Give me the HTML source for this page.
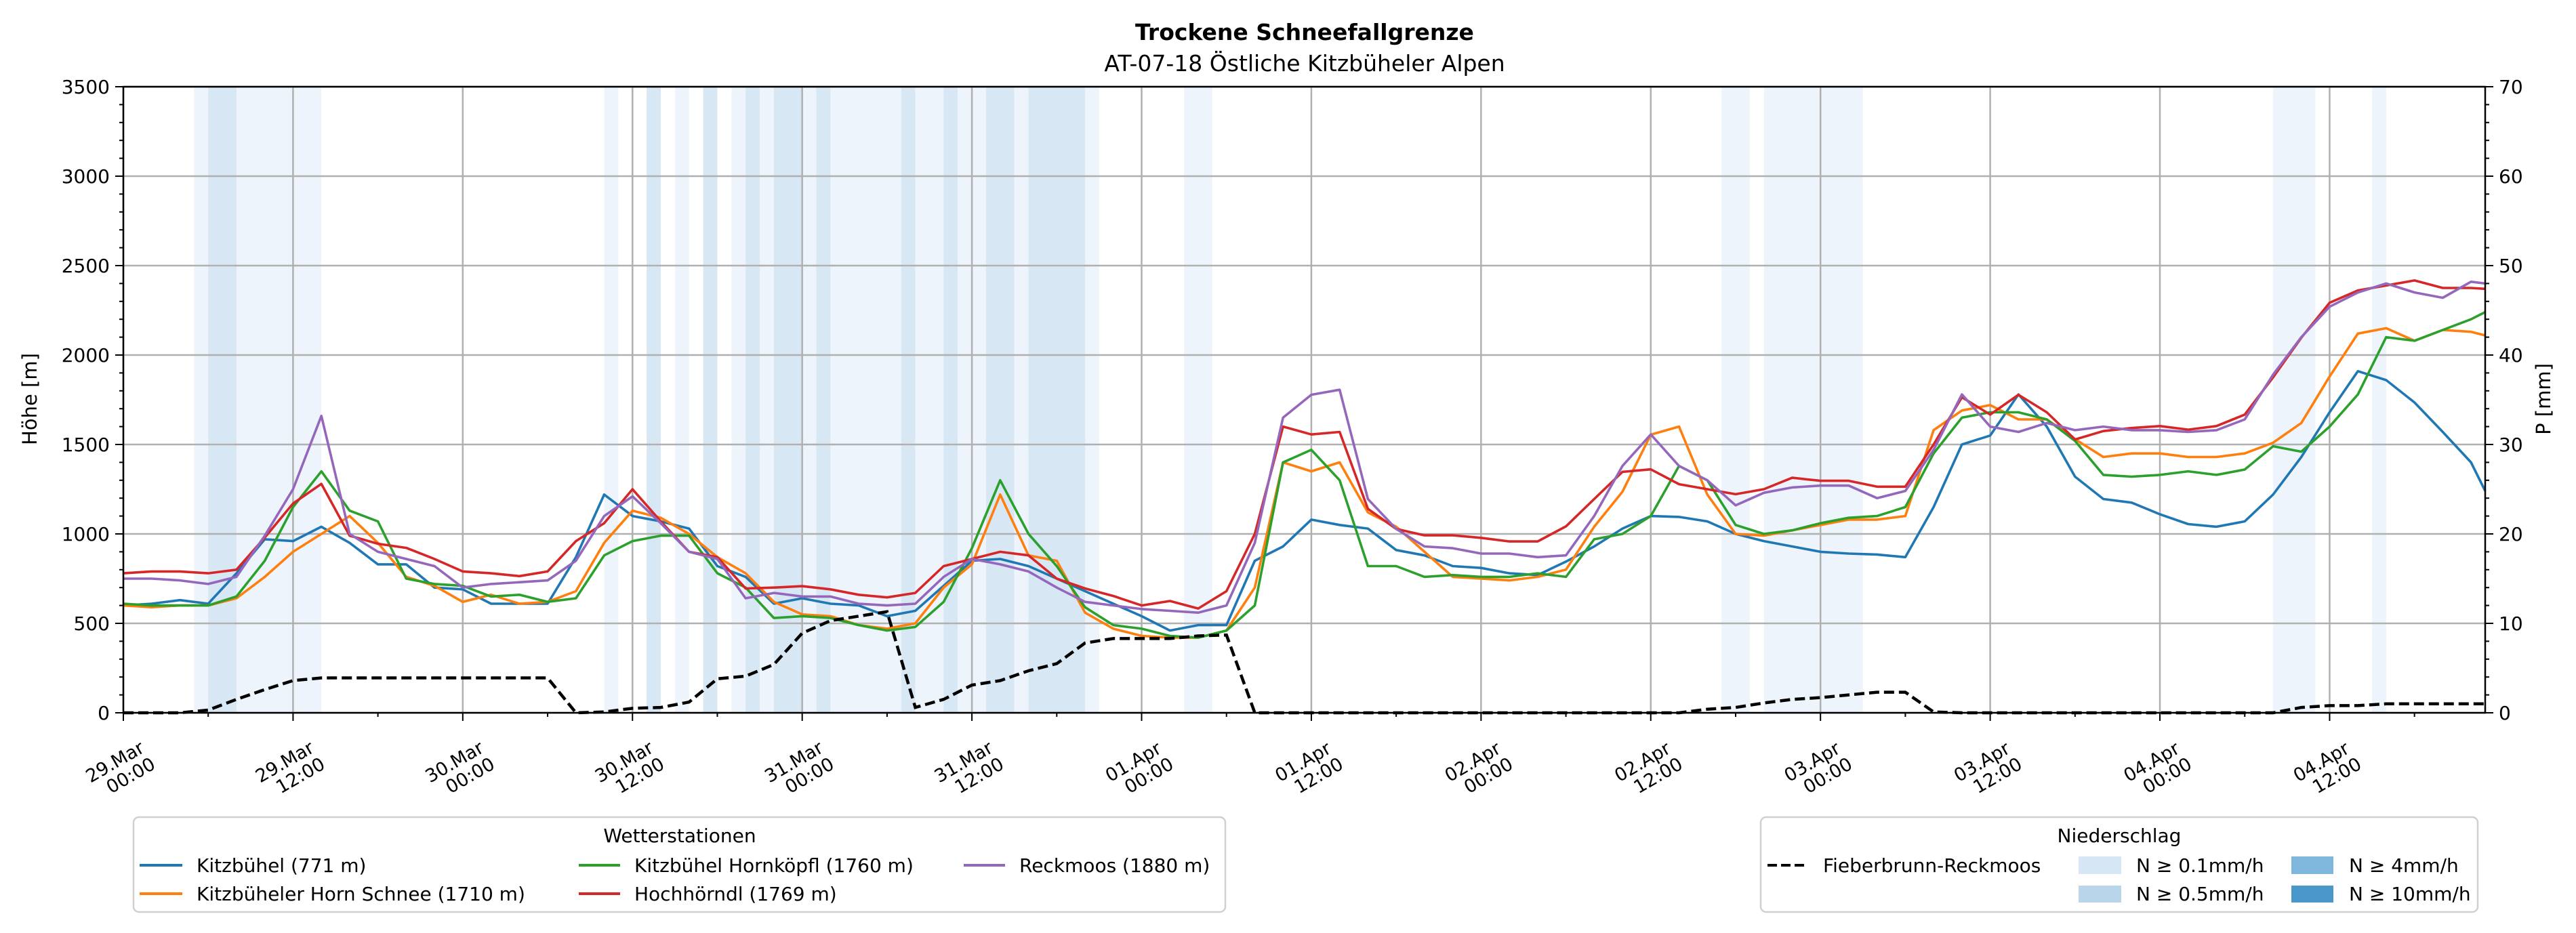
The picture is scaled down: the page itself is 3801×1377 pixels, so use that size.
<!DOCTYPE html>
<html><head><meta charset="utf-8">
<style>
html,body{margin:0;padding:0;background:#fff;}
svg{display:block;font-family:"DejaVu Sans","Liberation Sans",sans-serif;}
</style></head>
<body>
<svg id="chart" width="3801" height="1377" viewBox="0 0 3801 1377" xmlns="http://www.w3.org/2000/svg">
<rect x="0" y="0" width="3801" height="1377" fill="#fff"/>
<text x="1925" y="59" font-size="33" font-weight="bold" text-anchor="middle">Trockene Schneefallgrenze</text>
<text x="1925" y="105" font-size="33" text-anchor="middle">AT-07-18 Östliche Kitzbüheler Alpen</text>
<g id="bands"></g>
<g id="grid"></g>
<g id="series"></g>
<g id="axes"></g>
<text transform="translate(46,589) rotate(-90)" font-size="29" text-anchor="middle" dominant-baseline="middle">Höhe [m]</text>
<text transform="translate(3755,589) rotate(-90)" font-size="29" text-anchor="middle" dominant-baseline="middle">P [mm]</text>

<g>
<rect x="197" y="1206" width="1611" height="140" rx="8" fill="#fff" stroke="#d0d0d0" stroke-width="2.5"/>
<text x="1003" y="1243" font-size="28" text-anchor="middle">Wetterstationen</text>
<g><line x1="206" y1="1277" x2="269" y2="1277" stroke="#1f77b4" stroke-width="4"/><text x="290" y="1287" font-size="28">Kitzbühel (771 m)</text></g>
<g><line x1="206" y1="1319" x2="269" y2="1319" stroke="#ff7f0e" stroke-width="4"/><text x="290" y="1329" font-size="28">Kitzbüheler Horn Schnee (1710 m)</text></g>
<g><line x1="854" y1="1277" x2="915" y2="1277" stroke="#2ca02c" stroke-width="4"/><text x="936" y="1287" font-size="28">Kitzbühel Hornköpfl (1760 m)</text></g>
<g><line x1="854" y1="1319" x2="915" y2="1319" stroke="#d62728" stroke-width="4"/><text x="936" y="1329" font-size="28">Hochhörndl (1769 m)</text></g>
<g><line x1="1422" y1="1277" x2="1483" y2="1277" stroke="#9467bd" stroke-width="4"/><text x="1504" y="1287" font-size="28">Reckmoos (1880 m)</text></g>
</g>

<g>
<rect x="2598" y="1206" width="1058" height="140" rx="8" fill="#fff" stroke="#d0d0d0" stroke-width="2.5"/>
<text x="3127" y="1243" font-size="28" text-anchor="middle">Niederschlag</text>
<g><line x1="2608" y1="1277" x2="2667" y2="1277" stroke="#000" stroke-width="4" stroke-dasharray="14,6"/><text x="2690" y="1287" font-size="28">Fieberbrunn-Reckmoos</text></g>
<g><rect x="3067" y="1264" width="63" height="26" fill="#d6e6f4"/><text x="3152" y="1287" font-size="28">N ≥ 0.1mm/h</text></g>
<g><rect x="3067" y="1307" width="63" height="25" fill="#b9d5ea"/><text x="3152" y="1329" font-size="28">N ≥ 0.5mm/h</text></g>
<g><rect x="3381" y="1264" width="62" height="26" fill="#7fb6dc"/><text x="3466" y="1287" font-size="28">N ≥ 4mm/h</text></g>
<g><rect x="3381" y="1307" width="62" height="25" fill="#4a98cb"/><text x="3466" y="1329" font-size="28">N ≥ 10mm/h</text></g>
</g>
</svg>
<script>
const times = [0,2,4,6,8,10,12,14,16,18,20,22,24,26,28,30,32,34,36,38,40,42,44,46,48,50,52,54,56,58,60,62,64,66,68,70,72,74,76,78,80,82,84,86,88,90,92,94,96,98,100,102,104,106,108,110,112,114,116,118,120,122,124,126,128,130,132,134,136,138,140,142,144,146,148,150,152,154,156,158,160,162,164,166,167];
const kitzbuehel = [600,610,630,610,780,970,960,1040,950,830,830,700,690,610,610,610,870,1220,1100,1070,1030,820,760,610,640,610,600,540,570,710,850,860,820,750,680,610,540,460,490,490,850,930,1080,1050,1030,910,880,820,810,780,770,845,930,1030,1100,1095,1070,1000,960,930,900,890,885,870,1150,1500,1550,1780,1600,1320,1195,1175,1110,1055,1040,1070,1220,1430,1680,1910,1860,1735,1570,1400,1240];
const hornSchnee = [600,590,600,600,640,760,900,1000,1100,950,760,710,620,660,610,620,680,950,1130,1090,1000,870,780,620,550,540,490,470,500,700,830,1220,880,850,560,470,430,420,420,460,700,1400,1350,1400,1120,1040,900,760,750,740,760,800,1040,1236,1555,1600,1220,1000,990,1020,1050,1080,1080,1100,1580,1690,1720,1640,1640,1530,1430,1450,1450,1430,1430,1450,1510,1620,1880,2120,2150,2080,2140,2130,2110];
const hornkoepfl = [610,600,600,600,650,850,1150,1350,1130,1070,750,720,710,650,660,620,640,880,960,990,990,780,700,530,540,530,490,460,480,620,920,1300,1000,820,590,490,470,430,420,460,600,1400,1470,1300,820,820,760,770,760,760,780,760,970,1000,1100,1380,1300,1050,1000,1020,1060,1090,1100,1150,1450,1650,1680,1680,1640,1520,1330,1320,1330,1350,1330,1360,1490,1460,1600,1780,2100,2080,2140,2200,2240];
const hochhoerndl = [780,790,790,780,800,980,1170,1280,990,945,922,860,790,780,764,790,960,1060,1250,1070,900,870,695,700,708,690,660,645,670,820,860,900,880,750,695,653,600,625,583,680,1000,1600,1556,1570,1140,1028,992,992,978,958,958,1042,1195,1347,1361,1278,1250,1222,1250,1314,1297,1297,1264,1264,1500,1764,1667,1778,1680,1528,1575,1592,1603,1583,1603,1667,1875,2097,2292,2361,2389,2417,2375,2375,2370];
const reckmoos = [750,750,740,720,760,990,1250,1660,1000,900,860,820,700,720,730,740,850,1100,1210,1060,900,860,640,670,650,650,610,600,610,760,860,830,790,700,620,600,580,570,560,600,950,1650,1778,1806,1195,1028,930,920,890,890,870,880,1100,1380,1556,1380,1300,1160,1230,1260,1270,1270,1200,1240,1470,1780,1600,1570,1620,1580,1600,1580,1580,1570,1580,1640,1890,2100,2270,2350,2400,2350,2320,2410,2400];
const precip = [0,0,0,0.3,1.5,2.6,3.6,3.9,3.9,3.9,3.9,3.9,3.9,3.9,3.9,3.9,0,0.1,0.5,0.6,1.2,3.8,4.1,5.4,8.9,10.3,10.8,11.3,0.6,1.5,3.1,3.6,4.7,5.5,7.8,8.3,8.3,8.3,8.6,8.7,0,0,0,0,0,0,0,0,0,0,0,0,0,0,0,0,0.4,0.6,1.1,1.5,1.7,2.0,2.3,2.3,0.1,0,0,0,0,0,0,0,0,0,0,0,0,0.6,0.8,0.8,1.0,1.0,1.0,1.0,1.0];
const bandStart = [5,34,37,39,41,43,44,45,46,48,49,50,55,56,58,59,61,63,64,68,75,113,116,152,159];
const bandEnd   = [14,35,38,40,42,44,45,46,48,49,50,55,56,58,59,61,63,64,68,69,77,115,123,155,160];
const bandLevel = [1,1,2,1,2,1,2,1,2,1,2,1,2,1,2,1,2,1,2,1,1,1,1,1,1];
const darkBands = [[6,8]];
const yTicks = [0,500,1000,1500,2000,2500,3000,3500];
const y2Ticks = [0,10,20,30,40,50,60,70];
const xTickLabels = [["29.Mar","00:00"],["29.Mar","12:00"],["30.Mar","00:00"],["30.Mar","12:00"],["31.Mar","00:00"],["31.Mar","12:00"],["01.Apr","00:00"],["01.Apr","12:00"],["02.Apr","00:00"],["02.Apr","12:00"],["03.Apr","00:00"],["03.Apr","12:00"],["04.Apr","00:00"],["04.Apr","12:00"]];

const NS="http://www.w3.org/2000/svg";
const X0=182,X1=3667,Y0=128,Y1=1052,HMAX=167;
const xs=h=>X0+h*(X1-X0)/HMAX;
const ys=m=>Y1-m*(Y1-Y0)/3500;
const yp=mm=>Y1-mm*(Y1-Y0)/70;
function mk(tag,attrs,parent){const e=document.createElementNS(NS,tag);for(const k in attrs)e.setAttribute(k,attrs[k]);parent.appendChild(e);return e;}

const gB=document.getElementById('bands');
const bandColors={1:"#eef4fb",2:"#d8e7f4"};
for(let i=0;i<bandStart.length;i++){
  const r=mk('rect',{x:xs(bandStart[i]),y:Y0,width:xs(bandEnd[i])-xs(bandStart[i]),height:Y1-Y0,fill:bandColors[bandLevel[i]]},gB);
  
  
}
darkBands.forEach(b=>{
  const r=mk('rect',{x:xs(b[0]),y:Y0,width:xs(b[1])-xs(b[0]),height:Y1-Y0,fill:bandColors[2]},gB);
  
  
});

const gG=document.getElementById('grid');
yTicks.forEach(v=>{const l=mk('line',{x1:X0,x2:X1,y1:ys(v),y2:ys(v),stroke:"#b0b0b0","stroke-width":2.5},gG);
  
  });
xTickLabels.forEach((t,i)=>{const l=mk('line',{x1:xs(i*12),x2:xs(i*12),y1:Y0,y2:Y1,stroke:"#b0b0b0","stroke-width":2.5},gG);
  
  });

const gS=document.getElementById('series');
function path(vals,fn){return vals.map((v,i)=>(i?'L':'M')+xs(times[i]).toFixed(1)+','+fn(v).toFixed(1)).join(' ');}
const ser=[[kitzbuehel,"#1f77b4","series-kitzbuehel"],[hornSchnee,"#ff7f0e","series-horn-schnee"],[hornkoepfl,"#2ca02c","series-hornkoepfl"],[hochhoerndl,"#d62728","series-hochhoerndl"],[reckmoos,"#9467bd","series-reckmoos"]];
ser.forEach(s=>{const p=mk('path',{d:path(s[0],ys),fill:"none",stroke:s[1],"stroke-width":3.6,"stroke-linejoin":"round"},gS);
  
  });
const pp=mk('path',{d:path(precip,yp),fill:"none",stroke:"#000","stroke-width":4.5,"stroke-dasharray":"15,7"},gS);



const gA=document.getElementById('axes');
mk('rect',{x:X0,y:Y0,width:X1-X0,height:Y1-Y0,fill:"none",stroke:"#000","stroke-width":2.5},gA);
for(let v=0;v<=3500;v+=100){const len=v%500===0?12:6;mk('line',{x1:X0-len,x2:X0,y1:ys(v),y2:ys(v),stroke:"#000","stroke-width":2},gA);}
yTicks.forEach(v=>{const t=mk('text',{x:X0-20,y:ys(v)+10,"font-size":28,"text-anchor":"end"},gA);t.textContent=v;
  
  });
for(let v=0;v<=70;v+=2){const len=v%10===0?12:6;mk('line',{x1:X1,x2:X1+len,y1:yp(v),y2:yp(v),stroke:"#000","stroke-width":2},gA);}
y2Ticks.forEach(v=>{const t=mk('text',{x:X1+20,y:yp(v)+10,"font-size":28,"text-anchor":"start"},gA);t.textContent=v;
  
  });
for(let h=0;h<=HMAX;h+=6){const len=h%12===0?12:6;mk('line',{x1:xs(h),x2:xs(h),y1:Y1,y2:Y1+len,stroke:"#000","stroke-width":2},gA);}
xTickLabels.forEach((lab,i)=>{
  const g=mk('g',{transform:`translate(${xs(i*12)-12},1125) rotate(-30)`},gA);
  
  
  const t1=mk('text',{x:0,y:0,"font-size":27,"text-anchor":"middle","dominant-baseline":"central"},g);t1.textContent=lab[0];
  const t2=mk('text',{x:10,y:29,"font-size":27,"text-anchor":"middle","dominant-baseline":"central"},g);t2.textContent=lab[1];
});
</script>
</body></html>
